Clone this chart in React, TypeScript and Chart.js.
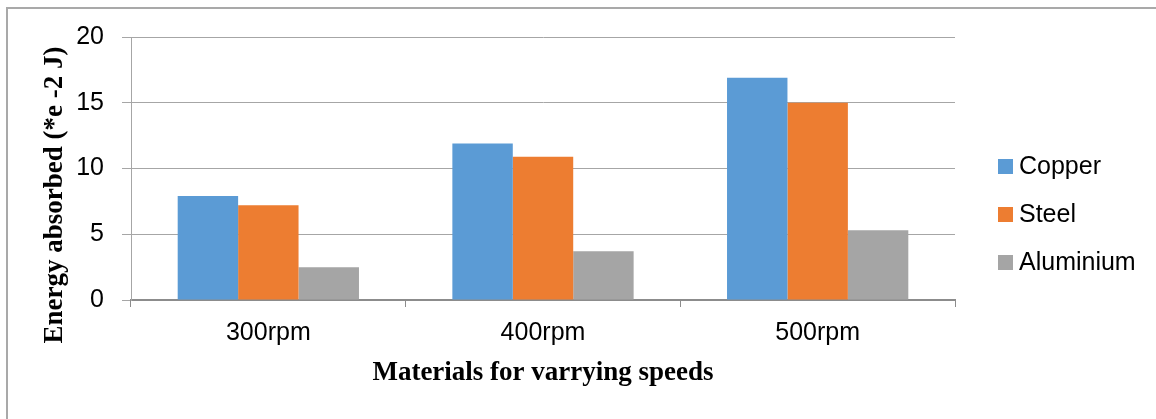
import React, { useEffect, useRef } from "react";
import { Chart, registerables } from "chart.js";

Chart.register(...registerables);

const categories = ["300rpm", "400rpm", "500rpm"];
const copperValues = [7.9, 11.9, 16.9];
const steelValues = [7.2, 10.9, 15.0];
const aluminiumValues = [2.5, 3.7, 5.3];
const seriesNames = ["Copper", "Steel", "Aluminium"];
const seriesColors = ["#5B9BD5", "#ED7D31", "#A5A5A5"];
const yTicks = [0, 5, 10, 15, 20];
const xTitle = "Materials for varrying speeds";
const yTitle = "Energy absorbed (*e -2 J)";

const SANS = "'Liberation Sans', Arial, sans-serif";
const SERIF = "'Liberation Serif', 'Times New Roman', serif";

const customPlugin = {
  id: "customDecor",
  afterDraw(chart: any) {
    const ctx = chart.ctx;
    // y title (rotated)
    ctx.save();
    ctx.translate(55, 195);
    ctx.rotate(-Math.PI / 2);
    ctx.font = `bold 27px ${SERIF}`;
    ctx.fillStyle = "#000";
    ctx.textAlign = "center";
    ctx.textBaseline = "middle";
    ctx.fillText(yTitle, 0, 0);
    ctx.restore();
    // legend
    ctx.save();
    ctx.font = `25px ${SANS}`;
    ctx.textBaseline = "middle";
    ctx.textAlign = "left";
    chart.data.datasets.forEach((ds: any, i: number) => {
      const cy = 166 + i * 48;
      ctx.fillStyle = ds.backgroundColor;
      ctx.fillRect(998, cy - 7, 15, 15);
      ctx.fillStyle = "#000";
      ctx.fillText(ds.label, 1019, cy + 1);
    });
    ctx.restore();
  },
};

export default function App() {
  const ref = useRef<HTMLCanvasElement>(null);
  useEffect(() => {
    if (!ref.current) return;
    const chart = new Chart(ref.current, {
      type: "bar",
      data: {
        labels: categories,
        datasets: [copperValues, steelValues, aluminiumValues].map((d, i) => ({
          label: seriesNames[i],
          data: d,
          backgroundColor: seriesColors[i],
          borderWidth: 0,
          categoryPercentage: 0.66,
          barPercentage: 1.0,
        })),
      },
      options: {
        responsive: false,
        animation: false,
        layout: { padding: { left: 0, top: 37, right: 201, bottom: 0 } },
        plugins: {
          legend: { display: false },
          tooltip: { enabled: false },
        },
        scales: {
          x: {
            offset: true,
            grid: {
              drawOnChartArea: false,
              drawTicks: true,
              tickLength: 7,
              color: "#8c8c8c",
              offset: true,
            },
            border: { color: "#8c8c8c", width: 2 },
            ticks: {
              color: "#000",
              font: { family: SANS, size: 25 },
              padding: 11,
            },
            title: {
              display: true,
              text: xTitle,
              color: "#000",
              font: { family: SERIF, size: 27, weight: "bold" },
              padding: { top: 0, bottom: 30 },
            },
            afterFit(scale: any) {
              scale.height = 119;
            },
          },
          y: {
            min: 0,
            max: 20,
            afterBuildTicks(scale: any) {
              scale.ticks = yTicks.map((v) => ({ value: v }));
            },
            grid: {
              color: "#a6a6a6",
              lineWidth: 1,
              tickLength: 9,
              drawTicks: true,
            },
            border: { color: "#a6a6a6", width: 1 },
            ticks: {
              color: "#000",
              font: { family: SANS, size: 25 },
              padding: 18,
            },
            afterFit(scale: any) {
              scale.width = 131;
            },
          },
        },
      },
      plugins: [customPlugin],
    });
    return () => chart.destroy();
  }, []);

  return (
    <div
      style={{
        position: "fixed",
        left: 0,
        top: 0,
        width: 1156,
        height: 419,
        overflow: "hidden",
        background: "#fff",
      }}
    >
      <div
        style={{
          position: "absolute",
          left: 6,
          top: 7,
          width: 1300,
          height: 600,
          borderLeft: "2px solid #a9a9a9",
          borderTop: "2px solid #a9a9a9",
        }}
      />
      <canvas
        ref={ref}
        width={1156}
        height={419}
        style={{ position: "absolute", left: 0, top: 0 }}
      />
    </div>
  );
}
